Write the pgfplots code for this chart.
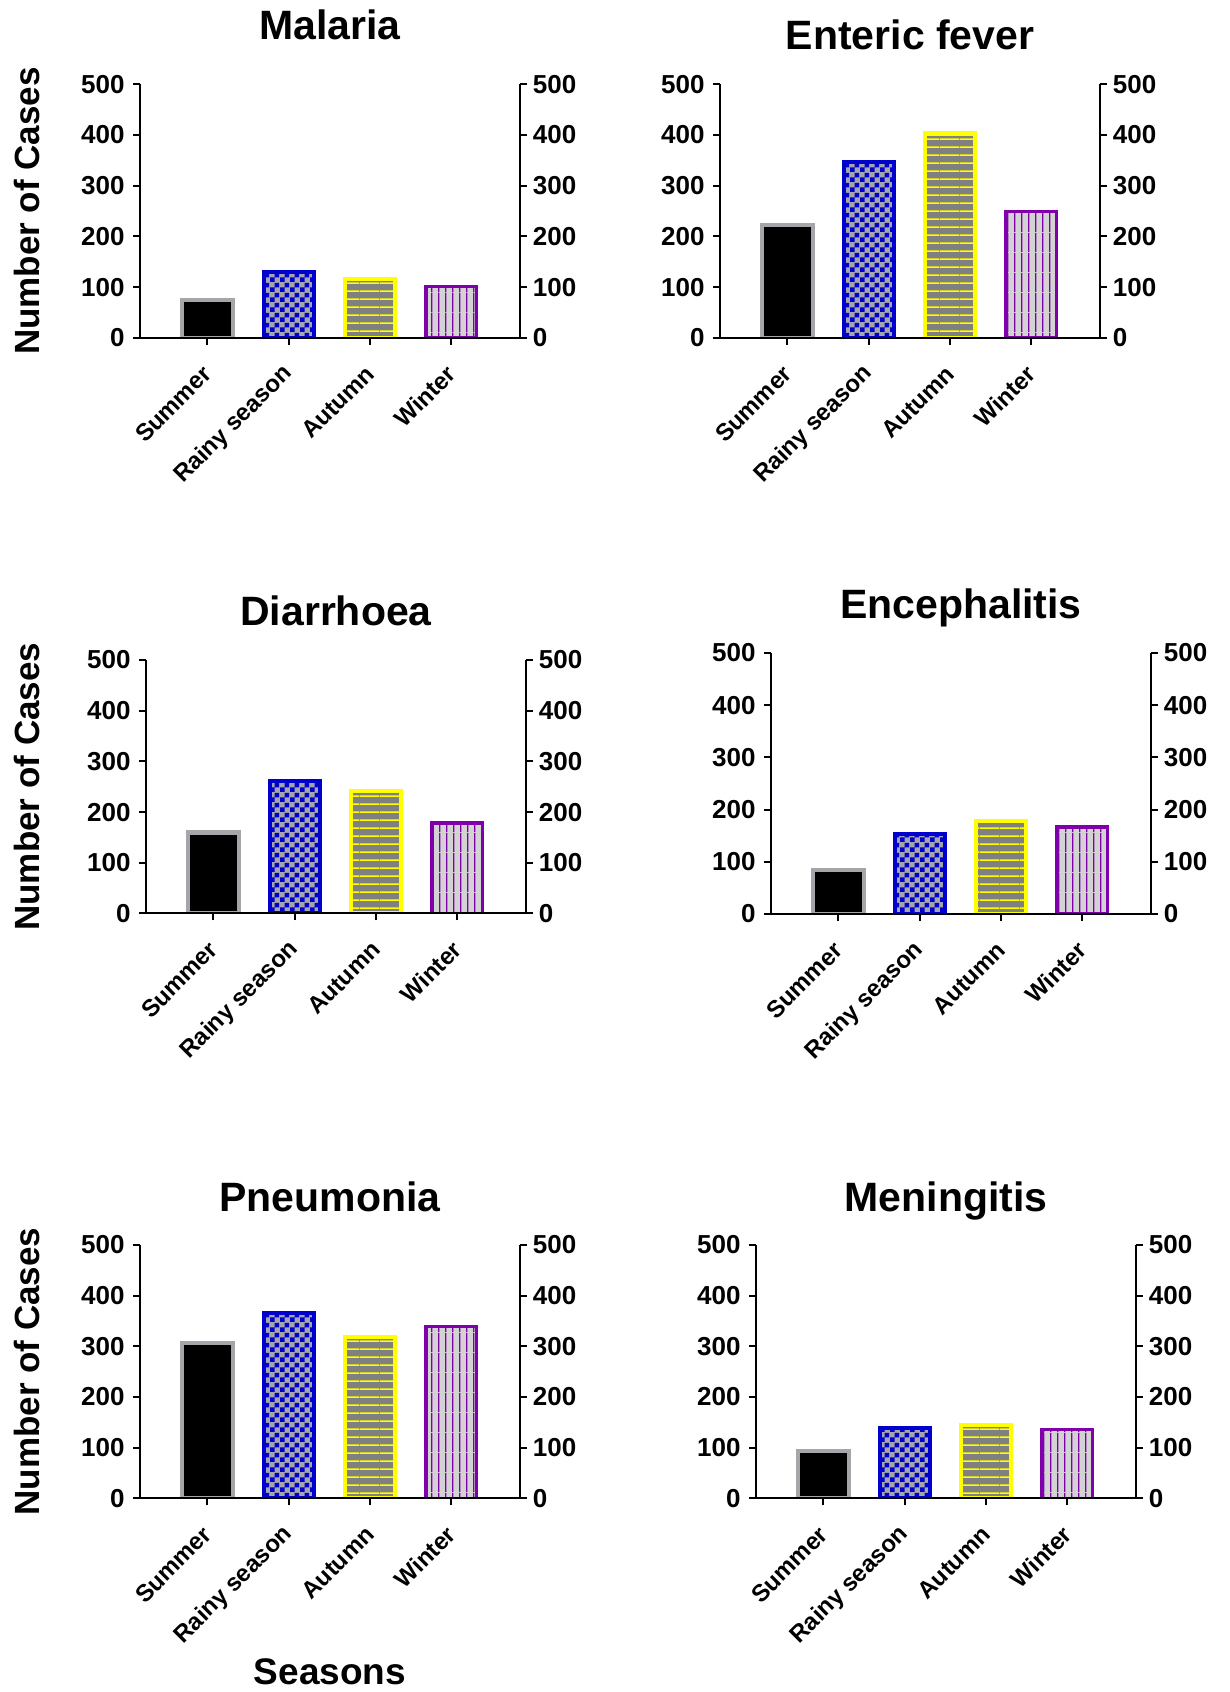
\documentclass[border=0pt]{standalone}
\usepackage{fontspec}
\setmainfont{Liberation Sans}
\usepackage{pgfplots}
\pgfplotsset{compat=1.18}
\usetikzlibrary{patterns}

\definecolor{sumgray}{RGB}{166,166,170}
\definecolor{rblue}{RGB}{0,0,204}
\definecolor{chkgray}{RGB}{165,165,175}
\definecolor{agray}{RGB}{128,128,128}
\definecolor{ayellow}{RGB}{255,255,0}
\definecolor{wgray}{RGB}{211,211,211}
\definecolor{wpurple}{RGB}{127,0,170}

\pgfdeclarepatternformonly{mycheck}{\pgfqpoint{0pt}{0pt}}{\pgfqpoint{5.0pt}{5.0pt}}{\pgfqpoint{5.0pt}{5.0pt}}{%
  \pgfpathrectangle{\pgfqpoint{0pt}{0pt}}{\pgfqpoint{2.5pt}{2.5pt}}%
  \pgfpathrectangle{\pgfqpoint{2.5pt}{2.5pt}}{\pgfqpoint{2.5pt}{2.5pt}}%
  \pgfusepath{fill}}
\pgfdeclarepatternformonly{myhlines}{\pgfqpoint{0pt}{0pt}}{\pgfqpoint{10pt}{3.8pt}}{\pgfqpoint{10pt}{3.8pt}}{%
  \pgfpathrectangle{\pgfqpoint{0pt}{0pt}}{\pgfqpoint{10pt}{0.85pt}}\pgfusepath{fill}}
\pgfdeclarepatternformonly{myvlines}{\pgfqpoint{0pt}{0pt}}{\pgfqpoint{3.6pt}{10pt}}{\pgfqpoint{3.6pt}{10pt}}{%
  \pgfpathrectangle{\pgfqpoint{0pt}{0pt}}{\pgfqpoint{0.7pt}{10pt}}\pgfusepath{fill}}

\pgfplotsset{
  base/.style={scale only axis, width=190pt, anchor=south west,
    ymin=0, ymax=500, ytick={0,100,200,300,400,500},
    axis line style={line width=1pt, black},
    major tick style={line width=1pt, black},
    major tick length=3.5pt, tick align=outside,
    /pgf/number format/assume math mode=true,
    ticklabel style={font=\bfseries\fontsize{13}{13}\selectfont},
    yticklabel style={inner sep=0pt}},
  lax/.style={base, xmin=-0.83, xmax=3.844,
    axis x line*=bottom, axis y line*=left,
    xtick={0,1,2,3}, xticklabels={Summer,Rainy season,Autumn,Winter},
    xticklabel style={rotate=45, anchor=east, inner sep=0pt,
      font=\bfseries\fontsize{12}{12}\selectfont},
    xticklabel shift=12.5pt, yticklabel shift=4pt,
    ybar, bar width=0.62, bar shift=0pt, axis on top,
    every axis title/.style={font=\bfseries\fontsize{20.5}{24}\selectfont, anchor=base},
    ylabel style={font=\bfseries\fontsize{17.5}{20}\selectfont, anchor=base},
    xlabel style={font=\bfseries\fontsize{18.5}{20}\selectfont, anchor=base}},
  raxis/.style={base, xmin=0, xmax=1, axis y line*=right, hide x axis,
    yticklabel shift=2.75pt},
  sumbar/.style={fill=black, draw=sumgray, line width=2.15pt},
  raibar/.style={fill=chkgray, draw=rblue, line width=2pt,
    postaction={pattern=mycheck, pattern color=rblue}},
  autbar/.style={fill=agray, draw=ayellow, line width=2.15pt,
    postaction={pattern=myhlines, pattern color=ayellow}},
  winbar/.style={fill=wgray, draw=wpurple, line width=1.8pt,
    postaction={pattern=myvlines, pattern color=wpurple}},
}

\newcommand{\bars}[4]{%
  \addplot[sumbar] coordinates {(0,#1)};
  \addplot[raibar] coordinates {(1,#2)};
  \addplot[autbar] coordinates {(2,#3)};
  \addplot[winbar] coordinates {(3,#4)};
}
\newcommand{\rightaxis}[3]{%
  \begin{axis}[raxis, at={(#1,#2)}, height=#3]
    \addplot[draw=none] coordinates {(0.5,0)};
  \end{axis}}

\begin{document}
\begin{tikzpicture}
\useasboundingbox (0,0) rectangle (615pt,846pt);

% Malaria
\begin{axis}[lax, at={(70pt,677.1pt)}, height=126.75pt,
  title={Malaria}, title style={at={(axis description cs:0.5,1.1748)}},
  ylabel={Number of Cases}, ylabel style={at={(axis description cs:-0.2645,0.5)}}]
  \bars{75}{130}{116}{101}
\end{axis}
\rightaxis{70pt}{677.1pt}{126.75pt}

% Enteric fever
\begin{axis}[lax, at={(360pt,677.1pt)}, height=126.75pt,
  title={Enteric fever}, title style={at={(axis description cs:0.5,1.1353)}}]
  \bars{222}{346}{403}{249}
\end{axis}
\rightaxis{360pt}{677.1pt}{126.75pt}

% Diarrhoea
\begin{axis}[lax, at={(73pt,389.25pt)}, height=126.75pt,
  title={Diarrhoea}, title style={at={(axis description cs:0.5,1.138)}},
  ylabel={Number of Cases}, ylabel style={at={(axis description cs:-0.2803,0.5)}}]
  \bars{160}{261}{241}{179}
\end{axis}
\rightaxis{73pt}{389.25pt}{126.75pt}

% Encephalitis
\begin{axis}[lax, at={(385.5pt,389pt)}, height=130.5pt,
  title={Encephalitis}, title style={at={(axis description cs:0.5,1.134)}}]
  \bars{84}{153}{178}{167}
\end{axis}
\rightaxis{385.5pt}{389pt}{130.5pt}

% Pneumonia
\begin{axis}[lax, at={(70pt,96.85pt)}, height=126.65pt,
  title={Pneumonia}, title style={at={(axis description cs:0.5,1.134)}},
  ylabel={Number of Cases}, ylabel style={at={(axis description cs:-0.2645,0.5)}},
  xlabel={Seasons}, xlabel style={at={(axis description cs:0.5,-0.737)}}]
  \bars{306}{366}{319}{339}
\end{axis}
\rightaxis{70pt}{96.85pt}{126.65pt}

% Meningitis
\begin{axis}[lax, at={(378pt,96.85pt)}, height=126.65pt,
  title={Meningitis}, title style={at={(axis description cs:0.5,1.134)}}]
  \bars{93}{138}{145}{136}
\end{axis}
\rightaxis{378pt}{96.85pt}{126.65pt}

\end{tikzpicture}
\end{document}
